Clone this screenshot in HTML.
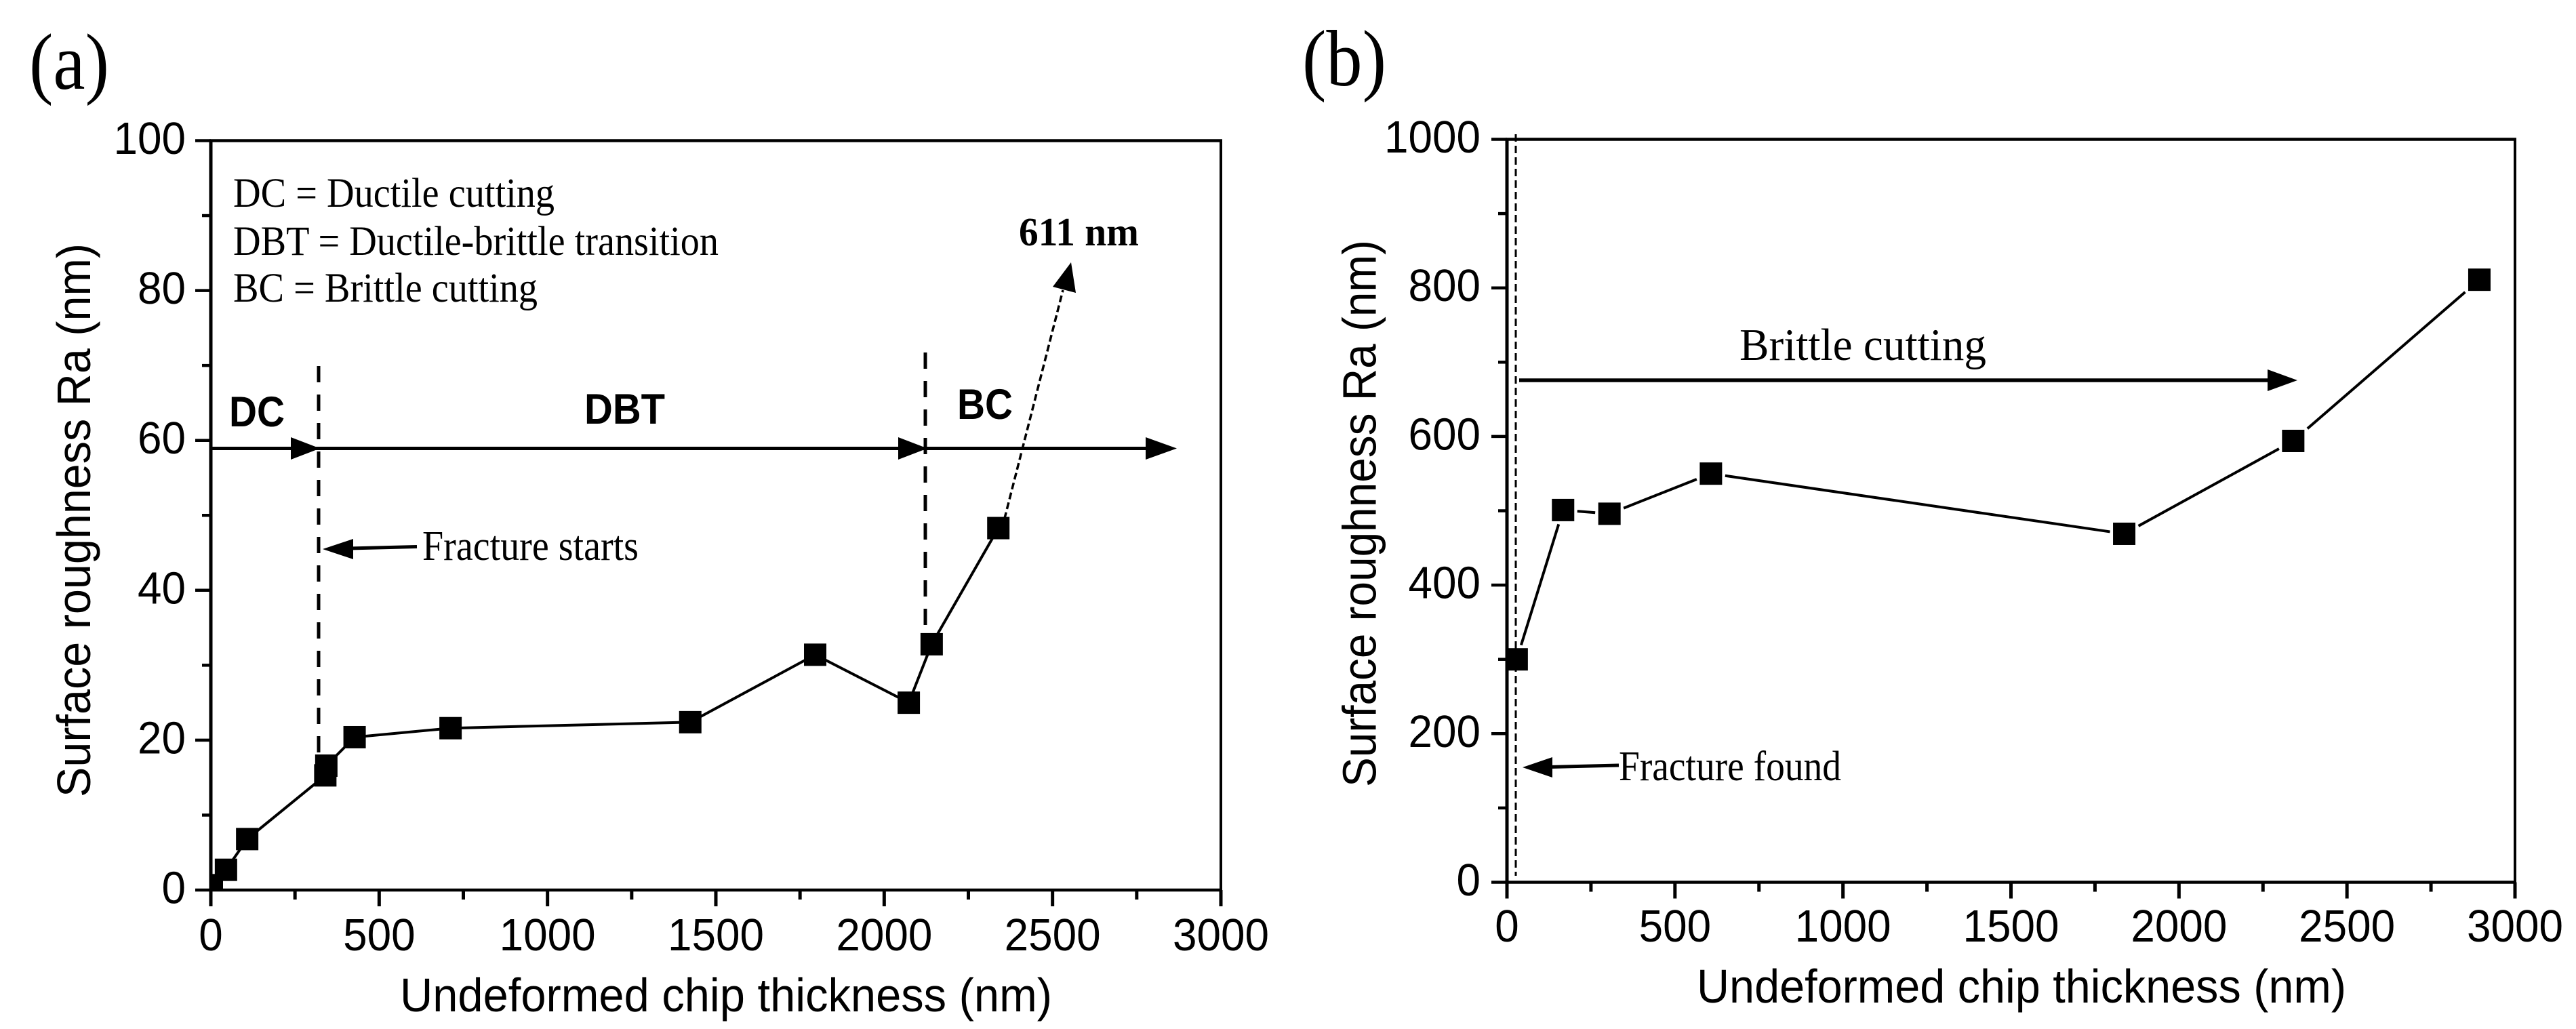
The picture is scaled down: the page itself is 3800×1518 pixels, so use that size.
<!DOCTYPE html>
<html lang="en">
<head>
<meta charset="utf-8">
<title>Surface roughness versus undeformed chip thickness</title>
<style>
html,body{margin:0;padding:0;background:#fff}
body{width:3800px;height:1518px;overflow:hidden}
svg{display:block}
.sans{font-family:"Liberation Sans",Arial,sans-serif}
.serif{font-family:"Liberation Serif","Times New Roman",serif}
text{fill:#000}
</style>
</head>
<body>
<svg id="figure" xmlns="http://www.w3.org/2000/svg" width="3800" height="1518" viewBox="0 0 3800 1518">
  <rect x="0" y="0" width="3800" height="1518" fill="#fff"/>

  <g id="panel-a">
    <text class="serif" x="43" y="131" font-size="118" textLength="118" lengthAdjust="spacingAndGlyphs">(a)</text>
    <text class="sans" x="590" y="1492" font-size="70" textLength="962" lengthAdjust="spacingAndGlyphs">Undeformed chip thickness (nm)</text>
    <text class="sans" transform="translate(133 1176) rotate(-90)" x="0" y="0" font-size="70" textLength="817" lengthAdjust="spacingAndGlyphs">Surface roughness Ra (nm)</text>

    <text class="serif" x="344" y="305" font-size="61" textLength="474" lengthAdjust="spacingAndGlyphs">DC = Ductile cutting</text>
    <text class="serif" x="344" y="376" font-size="61" textLength="716" lengthAdjust="spacingAndGlyphs">DBT = Ductile-brittle transition</text>
    <text class="serif" x="344" y="445" font-size="61" textLength="449" lengthAdjust="spacingAndGlyphs">BC = Brittle cutting</text>

    <text class="sans" x="338" y="629" font-size="63" font-weight="700" textLength="82" lengthAdjust="spacingAndGlyphs">DC</text>
    <text class="sans" x="862" y="625" font-size="63" font-weight="700" textLength="119" lengthAdjust="spacingAndGlyphs">DBT</text>
    <text class="sans" x="1412" y="618" font-size="63" font-weight="700" textLength="82" lengthAdjust="spacingAndGlyphs">BC</text>
    <text class="serif" x="1503" y="362" font-size="59" font-weight="700" textLength="177" lengthAdjust="spacingAndGlyphs">611 nm</text>
    <text class="serif" x="623" y="826" font-size="62" textLength="319" lengthAdjust="spacingAndGlyphs">Fracture starts</text>

    <line x1="470" y1="540" x2="470" y2="1116" stroke="#000" stroke-width="5" stroke-dasharray="24 18"/>
    <line x1="1365" y1="520" x2="1365" y2="924" stroke="#000" stroke-width="5" stroke-dasharray="24 18"/>

    <line x1="311" y1="661.5" x2="1700" y2="661.5" stroke="#000" stroke-width="5"/>
    <polygon points="429,645 472,661.5 429,678"/>
    <polygon points="1325,645 1368,661.5 1325,678"/>
    <polygon points="1690,645 1736,661.5 1690,678"/>

    <line x1="615" y1="806.5" x2="515" y2="809" stroke="#000" stroke-width="5"/>
    <polygon points="476,810 521,795 521,825"/>

    <line x1="1478" y1="780" x2="1568" y2="428" stroke="#000" stroke-width="3.5" stroke-dasharray="10 5"/>
    <polygon points="1580,387 1553,423 1587,432"/>
  </g>

  <g id="panel-b">
    <text class="serif" x="1921" y="126" font-size="118" textLength="124" lengthAdjust="spacingAndGlyphs">(b)</text>
    <text class="sans" x="2503" y="1479" font-size="70" textLength="958" lengthAdjust="spacingAndGlyphs">Undeformed chip thickness (nm)</text>
    <text class="sans" transform="translate(2029.5 1161) rotate(-90)" x="0" y="0" font-size="70" textLength="807" lengthAdjust="spacingAndGlyphs">Surface roughness Ra (nm)</text>

    <line x1="2236" y1="198" x2="2236" y2="1292" stroke="#000" stroke-width="3" stroke-dasharray="11 6"/>

    <text class="serif" x="2566" y="531" font-size="67" textLength="364" lengthAdjust="spacingAndGlyphs">Brittle cutting</text>
    <line x1="2241" y1="561" x2="3350" y2="561" stroke="#000" stroke-width="5.5"/>
    <polygon points="3345,545 3389,561 3345,577"/>

    <text class="serif" x="2388" y="1151" font-size="62" textLength="328" lengthAdjust="spacingAndGlyphs">Fracture found</text>
    <line x1="2388" y1="1129" x2="2285" y2="1131.5" stroke="#000" stroke-width="5"/>
    <polygon points="2246,1132 2290,1117 2290,1147"/>
  </g>
</svg>

<script>
const aThickness = [3, 45, 108, 340, 343, 427, 712, 1424, 1795, 2073, 2141, 2339];
const aRoughness = [0.65, 2.7, 6.8, 15.3, 16.6, 20.4, 21.6, 22.4, 31.4, 25, 32.8, 48.3];
const aXMajor = [0, 500, 1000, 1500, 2000, 2500, 3000];
const aXMinor = [250, 750, 1250, 1750, 2250, 2750];
const aYMajor = [0, 20, 40, 60, 80, 100];
const aYMinor = [10, 30, 50, 70, 90];

const bThickness = [29, 167, 305, 607, 1837, 2340, 2894];
const bRoughness = [300, 501, 496, 550, 469, 594, 811];
const bXMajor = [0, 500, 1000, 1500, 2000, 2500, 3000];
const bXMinor = [250, 750, 1250, 1750, 2250, 2750];
const bYMajor = [0, 200, 400, 600, 800, 1000];
const bYMinor = [100, 300, 500, 700, 900];

const NS = 'http://www.w3.org/2000/svg';

function make(tag, attrs, parent) {
  const el = document.createElementNS(NS, tag);
  for (const k in attrs) el.setAttribute(k, attrs[k]);
  parent.appendChild(el);
  return el;
}

function drawPanel(opts) {
  const group = document.getElementById(opts.id);
  const s = opts.suffix;
  const xScale = v => opts.left + (v - opts.xMin) / (opts.xMax - opts.xMin) * (opts.right - opts.left);
  const yScale = v => opts.bottom - (v - opts.yMin) / (opts.yMax - opts.yMin) * (opts.bottom - opts.top);
  const labelWidth = v => String(v).length * 35.5;

  // frame
  const frame = make('g', {stroke: '#000', fill: 'none'}, group);
  
  
  const edges = [
    [opts.left, opts.top - 2, opts.left, opts.bottom + 2, 5],
    [opts.left - 2, opts.bottom, opts.right + 2, opts.bottom, 4.5],
    [opts.left - 2, opts.top, opts.right + 2, opts.top, 4.5],
    [opts.right, opts.top - 2, opts.right, opts.bottom + 2, 4]
  ];
  edges.forEach(e => {
    const edge = make('line', {x1: e[0], y1: e[1], x2: e[2], y2: e[3], 'stroke-width': e[4]}, frame);
    
    
  });

  // x ticks
  opts.xMajor.forEach(v => {
    const x = xScale(v);
    const tick = make('line', {x1: x, y1: opts.bottom, x2: x, y2: opts.bottom + 24, stroke: '#000', 'stroke-width': 5}, group);
    
    
    const label = make('text', {x: x, y: opts.xLabelY, 'font-size': 67, 'text-anchor': 'middle', class: 'sans', textLength: labelWidth(v), lengthAdjust: 'spacingAndGlyphs'}, group);
    
    
    label.textContent = String(v);
  });
  opts.xMinor.forEach(v => {
    const x = xScale(v);
    const tick = make('line', {x1: x, y1: opts.bottom, x2: x, y2: opts.bottom + 14, stroke: '#000', 'stroke-width': 5}, group);
    
    
  });

  // y ticks
  opts.yMajor.forEach(v => {
    const y = yScale(v);
    const tick = make('line', {x1: opts.left - 23, y1: y, x2: opts.left, y2: y, stroke: '#000', 'stroke-width': 4.5}, group);
    
    
    const label = make('text', {x: opts.yLabelX, y: y + 19.5, 'font-size': 67, 'text-anchor': 'end', class: 'sans', textLength: labelWidth(v), lengthAdjust: 'spacingAndGlyphs'}, group);
    
    
    label.textContent = String(v);
  });
  opts.yMinor.forEach(v => {
    const y = yScale(v);
    const tick = make('line', {x1: opts.left - 13, y1: y, x2: opts.left, y2: y, stroke: '#000', 'stroke-width': 4.5}, group);
    
    
  });

  // clip for marks
  const clipId = 'clip-' + s;
  const defs = make('defs', {}, group);
  const clip = make('clipPath', {id: clipId}, defs);
  make('rect', {x: opts.left - 2.5, y: opts.top, width: opts.right - opts.left + 2.5, height: opts.bottom - opts.top + 2}, clip);

  const marks = make('g', {'clip-path': 'url(#' + clipId + ')'}, group);
  
  

  // connecting line segments, optionally stopping short of the symbols
  const gap = opts.gap;
  opts.xs.forEach((v, i) => {
    if (i === 0) return;
    const x1 = xScale(opts.xs[i - 1]), y1 = yScale(opts.ys[i - 1]);
    const x2 = xScale(v), y2 = yScale(opts.ys[i]);
    const dx = x2 - x1, dy = y2 - y1;
    const t = gap > 0 ? gap / Math.max(Math.abs(dx), Math.abs(dy)) : 0;
    if (t >= 0.5) return;
    const seg = make('line', {
      x1: x1 + dx * t, y1: y1 + dy * t,
      x2: x2 - dx * t, y2: y2 - dy * t,
      stroke: '#000', 'stroke-width': 4
    }, marks);
    
    
  });

  // square symbols
  const size = 33;
  opts.xs.forEach((v, i) => {
    const pt = make('rect', {
      x: xScale(v) - size / 2,
      y: yScale(opts.ys[i]) - size / 2,
      width: size, height: size, fill: '#000'
    }, marks);
    
    
  });
}

drawPanel({
  id: 'panel-a', suffix: 'a',
  left: 311, right: 1801, top: 207.5, bottom: 1313,
  xMin: 0, xMax: 3000, yMin: 0, yMax: 100,
  xLabelY: 1402, yLabelX: 274, gap: 0,
  xs: aThickness, ys: aRoughness,
  xMajor: aXMajor, xMinor: aXMinor, yMajor: aYMajor, yMinor: aYMinor
});

drawPanel({
  id: 'panel-b', suffix: 'b',
  left: 2223, right: 3710, top: 205.5, bottom: 1301.5,
  xMin: 0, xMax: 3000, yMin: 0, yMax: 1000,
  xLabelY: 1389, yLabelX: 2184, gap: 21,
  xs: bThickness, ys: bRoughness,
  xMajor: bXMajor, xMinor: bXMinor, yMajor: bYMajor, yMinor: bYMinor
});
</script>
</body>
</html>
